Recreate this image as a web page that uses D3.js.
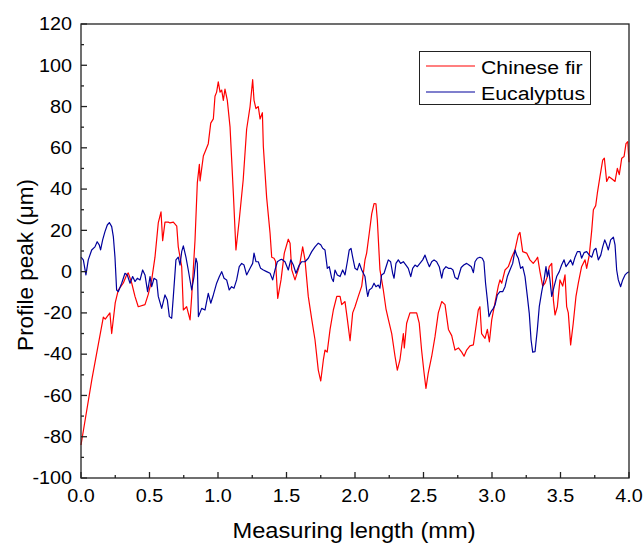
<!DOCTYPE html>
<html>
<head>
<meta charset="utf-8">
<script src="https://cdn.jsdelivr.net/npm/d3@7"></script>
<style>
  body { margin: 0; background: #fff; }
  text { font-family: "Liberation Sans", Arial, sans-serif; fill: #000; }
</style>
</head>
<body>
<svg id="chart" width="644" height="544"></svg>
<script>
// measuring length (mm) and profile peak (um)
const firX = [0.000,0.080,0.163,0.177,0.211,0.224,0.250,0.272,0.309,0.333,0.345,0.370,0.394,0.418,0.467,0.491,0.516,0.540,0.564,0.584,0.596,0.613,0.637,0.650,0.674,0.699,0.710,0.735,0.747,0.771,0.796,0.808,0.832,0.849,0.864,0.869,0.893,0.905,0.929,0.947,0.966,0.978,0.990,1.002,1.015,1.027,1.039,1.051,1.068,1.088,1.112,1.131,1.155,1.184,1.209,1.234,1.253,1.263,1.277,1.294,1.307,1.324,1.331,1.355,1.380,1.392,1.409,1.420,1.436,1.460,1.484,1.513,1.526,1.538,1.562,1.586,1.598,1.618,1.635,1.659,1.684,1.708,1.732,1.750,1.769,1.781,1.797,1.818,1.842,1.867,1.891,1.903,1.927,1.944,1.964,1.983,2.000,2.024,2.049,2.073,2.085,2.104,2.122,2.139,2.153,2.163,2.182,2.207,2.226,2.243,2.268,2.292,2.309,2.328,2.353,2.360,2.377,2.401,2.426,2.450,2.469,2.486,2.504,2.518,2.535,2.560,2.584,2.608,2.633,2.657,2.682,2.706,2.730,2.755,2.779,2.796,2.815,2.839,2.864,2.883,2.900,2.912,2.924,2.949,2.966,2.981,2.998,3.022,3.046,3.058,3.071,3.095,3.119,3.144,3.168,3.192,3.204,3.224,3.253,3.277,3.301,3.321,3.333,3.350,3.370,3.387,3.404,3.418,3.436,3.448,3.460,3.477,3.496,3.516,3.533,3.545,3.557,3.574,3.593,3.613,3.630,3.654,3.679,3.691,3.710,3.728,3.740,3.757,3.769,3.788,3.808,3.820,3.837,3.854,3.874,3.898,3.915,3.929,3.947,3.964,3.978,3.991,4.000];
const firY = [-84,-52,-22,-23,-20,-30,-15,-9,-5.5,-1.6,-0.6,-5.5,-12,-17,-16,-11,-4,7,23.6,29,15,24,24,23.6,24,22,12,2.4,-18.6,-17,-23.4,-12,15,43,52,44,56,58,62,72,74,85,87,92,87,88,83,88.5,83,70,38,10.5,25,44.5,69,80,93,83,79,80,74,77,60.6,36,18.6,7,6.5,5,-13,-4,9,15.7,13.8,1,-4,1,4,12,5.7,-12,-23,-33,-47.7,-53,-42.8,-38,-39,-28,-18.6,-12,-12,-16,-14.5,-23,-33.5,-20,-17,-12,-7,5.7,9,18.6,28,33,32.8,25,1,-9,-18,-23,-30,-41,-47.7,-42.8,-30,-37,-25,-20,-20,-20,-25,-38,-49,-56.6,-49,-41,-31.5,-20,-14.5,-16,-28,-31,-38,-37,-39,-41,-38,-36,-35.5,-26.7,-18.6,-17,-30,-32.3,-28,-34,-23.4,-15,-7,-4,-5.6,0.8,2.4,7,10.5,17.8,19,9.7,9,5.7,4,5.7,7,0,-7,-5.6,-2.4,2.4,4,-13.7,-21,-17,-4,-7,-1.6,-17,-20,-35.5,-25,-12,-5.6,2.4,5.7,1.6,8,20,30,32,38,46,54,55,43.7,46,45,43.7,50,47,55,55.8,62,63,53];

const eucX = [0.000,0.017,0.036,0.053,0.078,0.102,0.118,0.133,0.143,0.158,0.175,0.192,0.207,0.224,0.236,0.248,0.260,0.272,0.297,0.321,0.338,0.358,0.377,0.394,0.411,0.431,0.450,0.467,0.486,0.504,0.516,0.533,0.552,0.564,0.589,0.613,0.630,0.645,0.662,0.674,0.693,0.710,0.723,0.735,0.747,0.766,0.783,0.808,0.825,0.839,0.849,0.857,0.881,0.905,0.929,0.947,0.966,0.990,1.010,1.027,1.044,1.063,1.082,1.099,1.117,1.136,1.155,1.173,1.190,1.209,1.234,1.253,1.263,1.277,1.294,1.311,1.331,1.355,1.380,1.399,1.416,1.433,1.453,1.465,1.489,1.513,1.531,1.550,1.569,1.593,1.611,1.635,1.659,1.684,1.708,1.732,1.750,1.764,1.781,1.798,1.812,1.830,1.842,1.854,1.871,1.891,1.910,1.927,1.944,1.958,1.971,1.983,2.000,2.017,2.032,2.049,2.073,2.085,2.093,2.104,2.122,2.139,2.153,2.170,2.182,2.194,2.212,2.231,2.243,2.260,2.275,2.285,2.299,2.316,2.333,2.353,2.372,2.389,2.407,2.421,2.438,2.455,2.474,2.494,2.511,2.528,2.543,2.560,2.577,2.596,2.615,2.633,2.645,2.664,2.682,2.701,2.715,2.730,2.750,2.775,2.794,2.815,2.832,2.849,2.864,2.876,2.893,2.912,2.929,2.941,2.953,2.966,2.978,2.993,3.010,3.022,3.039,3.058,3.078,3.095,3.112,3.131,3.151,3.168,3.180,3.192,3.209,3.224,3.241,3.258,3.272,3.285,3.297,3.314,3.331,3.345,3.363,3.380,3.394,3.404,3.414,3.423,3.436,3.453,3.472,3.491,3.508,3.526,3.540,3.557,3.574,3.589,3.606,3.623,3.642,3.654,3.672,3.691,3.710,3.728,3.745,3.759,3.776,3.794,3.808,3.823,3.837,3.849,3.866,3.886,3.898,3.910,3.922,3.939,3.954,3.971,3.988,4.000];
const eucY = [7,5.7,-1.6,5.7,10.5,12,14.5,13,10.5,15.4,19.4,22.6,23.8,21.8,17,7,-8.9,-9.7,-5.6,-0.8,-1.6,-5.6,-2.4,-4.8,-3.2,-4,0.8,-1.6,-9.7,-2.4,-7.3,-3.2,-4,-12,-17.8,-11.3,-13.7,-21.8,-22.6,-12,5.7,7,3.2,9.7,12.5,7,0.8,-8.9,-2.4,6.5,4,-21.8,-17.8,-18.6,-10.5,-15.3,-11.3,-5.6,-2.4,0,-3.2,-4,-8.9,-7.3,-8,-4,2.4,4,3.2,-1.6,1.6,4,9,4.8,4.8,1.6,0.8,0,-0.8,-4,0.8,4.8,5.7,6,4.8,0.8,5.7,3.2,-0.8,3.2,4.8,4.8,6.5,9.7,12,13.8,13,11.3,10.5,1.6,2.4,-3.2,-4.8,0.8,-1.6,-2.4,0.8,-1.6,4.8,10.5,11.3,7,1.6,0.8,4,0.8,-2.4,-8.9,-12,-8.9,-8,-5.6,-7.3,-6.5,-8,-1.6,-0.8,3.2,5.7,4.8,-0.8,-3.2,4,5.7,4,4.8,3.2,1.6,-2.4,1.6,3.2,2.4,4,5.7,8,4.8,2.4,4.8,5.7,4.8,2.4,-3.2,0.8,2.4,1.6,1.6,0.8,-2.8,-3.7,2,3.2,4,3.2,2.4,-0.5,4.8,6.5,7,6.5,4.8,-5.6,-13.7,-21.8,-19.4,-17.8,-16.2,-11.3,-9.7,-9.7,-7.3,-2.4,0.8,4,10.5,8,6.5,1.6,2.4,-2.4,-12,-20.2,-33,-39,-38.8,-28,-17,-9.7,-4,2.4,-2.4,0.8,-4,-12,-7.3,-2.4,0,3.2,5.7,2.4,4,5.7,3.2,7,9.7,9.7,6.5,9.2,9.7,8,7,10.5,11.3,5.7,8,12,15.4,13,10.5,15.4,16.7,13,0.8,-4,-7.3,-4,-1.6,-0.5,0];

const seriesNames = ["Chinese fir", "Eucalyptus"];
const seriesColors = ["#ff0000", "#00009c"];
const xTicks = [0, 0.5, 1, 1.5, 2, 2.5, 3, 3.5, 4];
const yTicks = [-100, -80, -60, -40, -20, 0, 20, 40, 60, 80, 100, 120];

const svg = d3.select("#chart");
const margin = { left: 81, right: 629, top: 24, bottom: 478 };
// the source image is a little stretched sideways, so is its lettering
const stretch = 1.13;

const x = d3.scaleLinear().domain([0, 4]).range([margin.left, margin.right]);
const y = d3.scaleLinear().domain([-100, 120]).range([margin.bottom, margin.top]);

const line = d3.line().x(d => x(d[0])).y(d => y(d[1]));
const plot = svg.append("g");

const series = [d3.zip(firX, firY), d3.zip(eucX, eucY)];
series.forEach((s, i) => {
  plot.append("path")
    .datum(s)
    .attr("fill", "none")
    .attr("stroke", seriesColors[i])
    .attr("stroke-width", 1.2)
    .attr("stroke-linejoin", "round")
    .attr("d", line);
});

// frame
svg.append("rect")
  .attr("x", margin.left).attr("y", margin.top)
  .attr("width", margin.right - margin.left).attr("height", margin.bottom - margin.top)
  .attr("fill", "none").attr("stroke", "#222").attr("stroke-width", 1.3);

// x axis ticks (inward)
const xMinor = d3.range(0.25, 4, 0.5);
const gx = svg.append("g");
gx.selectAll("line.maj").data(xTicks).join("line")
  .attr("x1", d => x(d)).attr("x2", d => x(d))
  .attr("y1", margin.bottom).attr("y2", margin.bottom - 6)
  .attr("stroke", "#222").attr("stroke-width", 1.3);
gx.selectAll("line.min").data(xMinor).join("line")
  .attr("x1", d => x(d)).attr("x2", d => x(d))
  .attr("y1", margin.bottom).attr("y2", margin.bottom - 3)
  .attr("stroke", "#222").attr("stroke-width", 1.3);
gx.selectAll("text").data(xTicks).join("text")
  .attr("transform", d => `translate(${x(d)},502) scale(${stretch},1)`)
  .attr("text-anchor", "middle")
  .attr("font-size", 17.5)
  .text(d => d.toFixed(1));

// y axis ticks (inward)
const yMinor = d3.range(-90, 120, 20);
const gy = svg.append("g");
gy.selectAll("line.maj").data(yTicks).join("line")
  .attr("x1", margin.left).attr("x2", margin.left + 6)
  .attr("y1", d => y(d)).attr("y2", d => y(d))
  .attr("stroke", "#222").attr("stroke-width", 1.3);
gy.selectAll("line.min").data(yMinor).join("line")
  .attr("x1", margin.left).attr("x2", margin.left + 3)
  .attr("y1", d => y(d)).attr("y2", d => y(d))
  .attr("stroke", "#222").attr("stroke-width", 1.3);
gy.selectAll("text").data(yTicks).join("text")
  .attr("transform", d => `translate(72,${y(d) + 6.3}) scale(${stretch},1)`)
  .attr("text-anchor", "end")
  .attr("font-size", 17.5)
  .text(d => d);

// axis titles
svg.append("text")
  .attr("transform", `translate(354,538) scale(1.1,1)`)
  .attr("text-anchor", "middle")
  .attr("font-size", 21.5)
  .text("Measuring length (mm)");
svg.append("text")
  .attr("transform", "translate(33,265) rotate(-90)")
  .attr("text-anchor", "middle")
  .attr("font-size", 22.5)
  .text("Profile peak (\u03bcm)");

// legend
const lg = svg.append("g");
lg.append("rect")
  .attr("x", 419.5).attr("y", 51.5).attr("width", 171).attr("height", 53)
  .attr("fill", "#fff").attr("stroke", "#222").attr("stroke-width", 1);
seriesNames.forEach((name, i) => {
  const ly = 66 + i * 26;
  lg.append("line")
    .attr("x1", 426).attr("x2", 475).attr("y1", ly).attr("y2", ly)
    .attr("stroke", seriesColors[i]).attr("stroke-width", 1.2);
  lg.append("text")
    .attr("transform", `translate(481,${ly + 7.5}) scale(1.12,1)`)
    .attr("font-size", 19)
    .text(name);
});
</script>
</body>
</html>
